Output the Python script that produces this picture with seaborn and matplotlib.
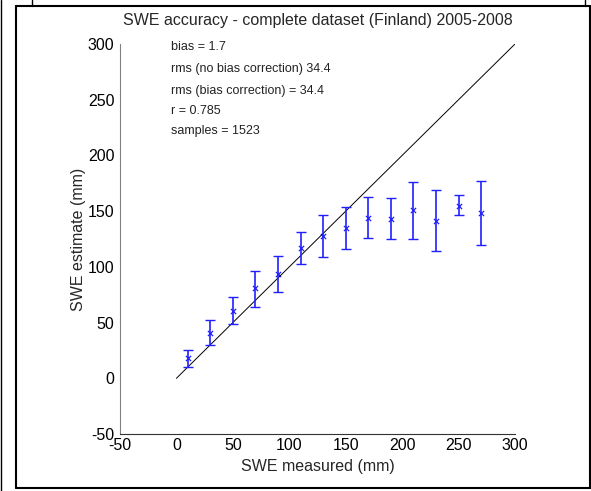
import matplotlib
matplotlib.use("Agg")
import matplotlib.pyplot as plt
import seaborn as sns
import pandas as pd
import numpy as np
from matplotlib.lines import Line2D

# ---- data ----
swe_measured = [10, 30, 50, 70, 90, 110, 130, 150, 170, 190, 210, 230, 250, 270]
swe_estimate = [17.9, 40.8, 60.6, 80.7, 93.5, 116.6, 128.0, 135.1, 144.1, 142.6, 150.7, 141.4, 154.8, 148.6]
err_upper = [25.3, 52.0, 72.6, 96.5, 110.0, 131.0, 146.2, 153.4, 162.4, 161.5, 176.4, 168.7, 164.2, 177.3]
err_lower = [10.3, 29.5, 48.4, 64.2, 77.1, 102.5, 109.0, 116.0, 126.1, 124.7, 124.7, 114.2, 146.2, 119.6]
one_to_one_x = [0, 300]
one_to_one_y = [0, 300]
stats_lines = ["bias = 1.7",
               "rms (no bias correction) 34.4",
               "rms (bias correction) = 34.4",
               "r = 0.785",
               "samples = 1523"]
stats_y = [297.3, 277.6, 257.8, 239.9, 221.9]
x_ticks = [-50, 0, 50, 100, 150, 200, 250, 300]
y_ticks = [-50, 0, 50, 100, 150, 200, 250, 300]
title = "SWE accuracy - complete dataset (Finland) 2005-2008"

df = pd.DataFrame({"measured": swe_measured, "estimate": swe_estimate,
                   "upper": err_upper, "lower": err_lower})
line_df = pd.DataFrame({"x": one_to_one_x, "y": one_to_one_y})

sns.set_style("white")
plt.rcParams["font.family"] = ["Liberation Sans", "DejaVu Sans"]
plt.rcParams["axes.unicode_minus"] = False

fig = plt.figure(figsize=(5.91, 4.91), dpi=100)
ax = fig.add_axes([120/591, 57/491, 395/591, 390/491])

sns.lineplot(data=line_df, x="x", y="y", ax=ax, color="black", linewidth=0.7)

yerr = np.array([df["estimate"] - df["lower"], df["upper"] - df["estimate"]])
ax.errorbar(df["measured"], df["estimate"], yerr=yerr, fmt="none",
            ecolor="#2020ff", elinewidth=1.2, capsize=3.5, capthick=1.0)
sns.scatterplot(data=df, x="measured", y="estimate", ax=ax, marker="x",
                color="#2020ff", s=14, linewidth=0.9)

for txt, yy in zip(stats_lines, stats_y):
    ax.text(-4.8, yy, txt, fontsize=9, va="center", ha="left", color="#222222")

ax.set_xlim(-50, 300)
ax.set_ylim(-50, 300)
ax.set_xticks(x_ticks)
ax.set_yticks(y_ticks)
ax.tick_params(axis="x", direction="in", length=3, labelsize=11.5, pad=3, colors="black")
ax.tick_params(axis="y", direction="out", length=3, labelsize=11.5, pad=1, colors="black")
for s in ["top", "right"]:
    ax.spines[s].set_visible(False)
ax.spines["left"].set_color("#808080")
ax.spines["bottom"].set_color("#333333")
ax.spines["left"].set_linewidth(0.8)
ax.spines["bottom"].set_linewidth(0.8)

ax.set_xlabel("SWE measured (mm)", fontsize=11.5, labelpad=4)
ax.set_ylabel("SWE estimate (mm)", fontsize=11.5, labelpad=1)
ax.set_title(title, fontsize=11.5, pad=14)

# frame decorations
def fl(x0, y0, x1, y1, lw=1.5):
    fig.add_artist(Line2D([x0/591, x1/591], [1 - y0/491, 1 - y1/491],
                          color="black", linewidth=lw, transform=fig.transFigure))

fl(16, 6, 590, 6)
fl(16, 6, 16, 488)
fl(16, 488, 591, 488)
fl(590, 6, 590, 488)
fl(1.5, 0, 1.5, 491, lw=1.0)
fl(32, 0, 32, 6, lw=1.0)
fl(585, 0, 585, 6, lw=1.0)

fig.savefig("out.png", dpi=100)
